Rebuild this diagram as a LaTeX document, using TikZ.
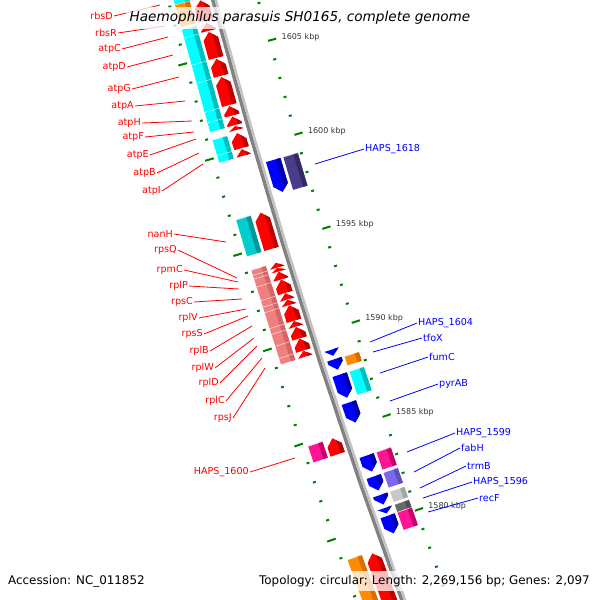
\documentclass[tikz,border=0pt]{standalone}
\usepackage{fontspec}
\setmainfont{DejaVu Sans}
\definecolor{cdsfwd}{RGB}{255,0,0}
\definecolor{cdsfwddark}{RGB}{190,0,0}
\definecolor{cdsrev}{RGB}{0,0,255}
\definecolor{cdsrevdark}{RGB}{0,0,170}
\definecolor{cogcyan}{RGB}{0,255,255}
\definecolor{cogcyandark}{RGB}{0,190,190}
\definecolor{cogteal}{RGB}{0,205,205}
\definecolor{cogtealdark}{RGB}{0,150,150}
\definecolor{cogsalmon}{RGB}{240,128,128}
\definecolor{cogsalmondark}{RGB}{215,100,100}
\definecolor{cogpink}{RGB}{255,20,147}
\definecolor{cogpinkdark}{RGB}{200,0,110}
\definecolor{cogorange}{RGB}{255,140,0}
\definecolor{cogorangedark}{RGB}{215,110,0}
\definecolor{cogslate}{RGB}{72,61,139}
\definecolor{cogslatedark}{RGB}{50,42,100}
\definecolor{coglilac}{RGB}{123,104,238}
\definecolor{coglilacdark}{RGB}{95,80,190}
\definecolor{coglgray}{RGB}{200,200,200}
\definecolor{coglgraydark}{RGB}{165,165,165}
\definecolor{cogdgray}{RGB}{105,105,105}
\definecolor{cogdgraydark}{RGB}{80,80,80}
\definecolor{bbdark}{RGB}{130,130,130}
\definecolor{bblight}{RGB}{195,195,195}
\definecolor{tickgreen}{RGB}{0,128,0}

% map coordinates: y = height where the backbone is, d = offset from it (+ out, - in)
\makeatletter
\def\map@y{0}\def\map@d{0}
\pgfkeys{/map/y/.store in=\map@y,/map/d/.store in=\map@d}
\tikzdeclarecoordinatesystem{map}{%
  \pgfkeys{/map/.cd,#1}%
  \pgfmathsetmacro\map@a{165.0431-(\map@y)/100*0.83108-0.195*((\map@y)/1000)*((\map@y)/1000)}%
  \pgfmathsetmacro\map@r{7130+(\map@d)}%
  \pgfmathsetmacro\map@px{7102.4+\map@r*cos(\map@a)}%
  \pgfmathsetmacro\map@py{-1840.2+\map@r*sin(\map@a)}%
  \pgfpointxy{\map@px}{\map@py}%
}
\makeatother

% gene on the forward strand, arrow pointing up
\newcommand\geneup[5]{%
  \def\gshape{(map cs:y=#2,d=#3) -- (map cs:y={#1+min(7,#2-(#1))},d=#3)
    -- (map cs:y=#1,d={(#3+#4)/2}) -- (map cs:y={#1+min(7,#2-(#1))},d=#4)
    -- (map cs:y=#2,d=#4) -- cycle}%
  \fill[#5] \gshape;
  \begin{scope}
    \clip \gshape;
    \fill[#5dark] (map cs:y=#1-3,d=#3-1) -- (map cs:y=#2+3,d=#3-1)
      -- (map cs:y=#2+3,d=#3+4.5) -- (map cs:y=#1-3,d=#3+4.5) -- cycle;
  \end{scope}}
% gene on the reverse strand, arrow pointing down
\newcommand\genedown[5]{%
  \def\gshape{(map cs:y=#1,d=#3) -- (map cs:y={#2-min(7,#2-(#1))},d=#3)
    -- (map cs:y=#2,d={(#3+#4)/2}) -- (map cs:y={#2-min(7,#2-(#1))},d=#4)
    -- (map cs:y=#1,d=#4) -- cycle}%
  \fill[#5] \gshape;
  \begin{scope}
    \clip \gshape;
    \fill[#5dark] (map cs:y=#1-3,d=#3-1) -- (map cs:y=#2+3,d=#3-1)
      -- (map cs:y=#2+3,d=#3+4.5) -- (map cs:y=#1-3,d=#3+4.5) -- cycle;
  \end{scope}}
% COG class box
\newcommand\cogbox[5]{%
  \fill[#5] (map cs:y=#1,d=#3) -- (map cs:y=#2,d=#3)
    -- (map cs:y=#2,d=#4) -- (map cs:y=#1,d=#4) -- cycle;
  \fill[#5dark] (map cs:y=#1,d=#3) -- (map cs:y=#2,d=#3)
    -- (map cs:y=#2,d=#3+4.5) -- (map cs:y=#1,d=#3+4.5) -- cycle;
  \draw[white,opacity=0.6,line width=0.6pt] (map cs:y=#1,d=#3) -- (map cs:y=#1,d=#4);}

\begin{document}
\begin{tikzpicture}[x=1pt,y=-1pt,
  fwdlbl/.style={inner sep=1pt,text=cdsfwd,font=\fontsize{9.6}{11}\selectfont},
  revlbl/.style={inner sep=1pt,text=cdsrev,font=\fontsize{9.6}{11}\selectfont},
  fwdline/.style={draw=cdsfwd,line width=0.8pt},
  revline/.style={draw=cdsrev,line width=0.8pt},
  kbtick/.style={draw=tickgreen,line width=2pt},
  kbp/.style={inner sep=0pt,text=black!80,font=\fontsize{8}{9}\selectfont},
  infobox/.style={fill=white,fill opacity=0.75,text opacity=1,inner sep=4pt}]
\useasboundingbox (0,0) rectangle (600,600);
\clip (0,0) rectangle (600,600);

% ticks every kbp, on both rings
\foreach \k in {1575,...,1609}{
  \pgfmathsetmacro\ty{146.5+(1600-\k)*18.9}
  \pgfmathtruncatemacro\km{mod(\k,5)}
  \ifnum\km=0
    \draw[kbtick] (map cs:y=\ty,d=43) -- (map cs:y=\ty,d=52);
    \draw[kbtick] (map cs:y=\ty,d=-41) -- (map cs:y=\ty,d=-49.5);
    \ifnum\k>1575
      \node[kbp,anchor=west] (kb\k) at (map cs:y=\ty,d=-55) {\k\ kbp};
    \fi
  \else
    \draw[kbtick] (map cs:y=\ty,d=43) -- (map cs:y=\ty,d=46);
    \draw[kbtick] (map cs:y=\ty,d=-41) -- (map cs:y=\ty,d=-44);
  \fi
}

% backbone
\draw[bbdark,line width=3.5pt] plot[variable=\s,domain=-40:660,samples=36] (map cs:y=\s,d=1.25);
\draw[bblight,line width=2.5pt] plot[variable=\s,domain=-40:660,samples=36] (map cs:y=\s,d=-1.75);

% forward strand
\foreach \gt/\gb in {-40/-5,-3/17,19.5/27.5,28.5/54.5,55.5/72.5,73.5/101.5,102.5/112,
  113/121.5,122.5/126.5,129.5/144.5,145.5/152,209/245,
  259/263.8,264/267.6,267.8/275.6,275.8/289.1,289.3/295.6,295.8/301.1,
  301.3/316.8,317/322.7,322.9/334.4,334.6/346.5,346.7/352.6,434/450,549/660}
  {\geneup{\gt}{\gb}{6}{21}{cdsfwd}}
\foreach \gt/\gb/\gc in {-40/-5/cogcyan,-5/17/cogorange,
  19.5/28/cogcyan,28/55/cogcyan,55/73/cogcyan,73/102/cogcyan,102/112.5/cogcyan,
  112.5/121.5/cogcyan,129.5/145/cogcyan,145/152/cogcyan,209/245/cogteal,
  259/264/cogsalmon,264/267.7/cogsalmon,267.7/275.7/cogsalmon,275.7/289.2/cogsalmon,
  289.2/295.7/cogsalmon,295.7/301.2/cogsalmon,301.2/316.9/cogsalmon,316.9/322.8/cogsalmon,
  322.8/334.5/cogsalmon,334.5/346.6/cogsalmon,346.6/352.6/cogsalmon,
  434/450/cogpink,547/660/cogorange}
  {\cogbox{\gt}{\gb}{24}{39}{\gc}}

% reverse strand
\foreach \gt/\gb in {164/196,354/360,363.5/374,379/402,407/427,
  460/476,481/495,499.5/509,512.5/518,520.5/538}
  {\genedown{\gt}{\gb}{-21}{-6}{cdsrev}}
\foreach \gt/\gb/\gc in {164/197/cogslate,364/373/cogorange,379/402.5/cogcyan,
  460/477.5/cogpink,480.5/495.5/coglilac,499.5/510/coglgray,512.5/520/cogdgray,
  520.5/538/cogpink}
  {\cogbox{\gt}{\gb}{-39}{-24}{\gc}}

% labels, forward strand
\foreach \nm/\txt/\lx/\ly/\ex/\ey in {
  rbsD/rbsD/114/16/160/5, rbsR/rbsR/118/33/165/26, atpC/atpC/122/49/168/37,
  atpD/atpD/127/67/173/55, atpG/atpG/132/89/179/77, atpA/atpA/135/106/185/101,
  atpH/atpH/142/123/192/121, atpF/atpF/145/137/194/132, atpE/atpE/150/155/196/139,
  atpB/atpB/157/173/199/153, atpI/atpI/162/191/203/164, nanH/nanH/174/234/226/242,
  rpsQ/rpsQ/178/250/237/278, rpmC/rpmC/184/270/238/282, rplP/rplP/189/286/239/289,
  rpsC/rpsC/194/302/242/299, rplV/rplV/199/318/246/309, rpsS/rpsS/204/334/248/316,
  rplB/rplB/210/351/252/326, rplW/rplW/215/368/254/338, rplD/rplD/220/383/257/346,
  rplC/rplC/226/401/262/358, rpsJ/rpsJ/233/418/265/368, h1600/HAPS\_1600/250/472/295/458}{
  \node[fwdlbl,anchor=east] (\nm) at (\lx,\ly) {\txt};
  \coordinate (\nm-end) at (\ex,\ey);
  \draw[fwdline] (\nm.east) -- (\nm-end);
}

% labels, reverse strand
\foreach \nm/\txt/\lx/\ly/\ex/\ey in {
  h1618/HAPS\_1618/364/149/315/164, h1604/HAPS\_1604/417/323/370/342,
  tfoX/tfoX/422/338/373/352, fumC/fumC/428/357/380/373, pyrAB/pyrAB/438/384/390/401,
  h1599/HAPS\_1599/455/433/407/452, fabH/fabH/460/448/414/472,
  trmB/trmB/466/466/420/488, h1596/HAPS\_1596/472/482/423/498, recF/recF/478/498/428/512}{
  \node[revlbl,anchor=west] (\nm) at (\lx,\ly) {\txt};
  \coordinate (\nm-end) at (\ex,\ey);
  \draw[revline] (\nm-end) -- (\nm.west);
}

% title and info
\node[infobox,font=\fontsize{13.6}{15}\selectfont\itshape] (title) at (300,18)
  {Haemophilus parasuis SH0165, complete genome};
\node[infobox,anchor=west,font=\fontsize{11.9}{13}\selectfont] (acc) at (4,581)
  {Accession: NC\_011852};
\node[infobox,anchor=east,font=\fontsize{11.9}{13}\selectfont] (topo) at (594,581)
  {Topology: circular; Length: 2,269,156 bp; Genes: 2,097};
\end{tikzpicture}
\end{document}
